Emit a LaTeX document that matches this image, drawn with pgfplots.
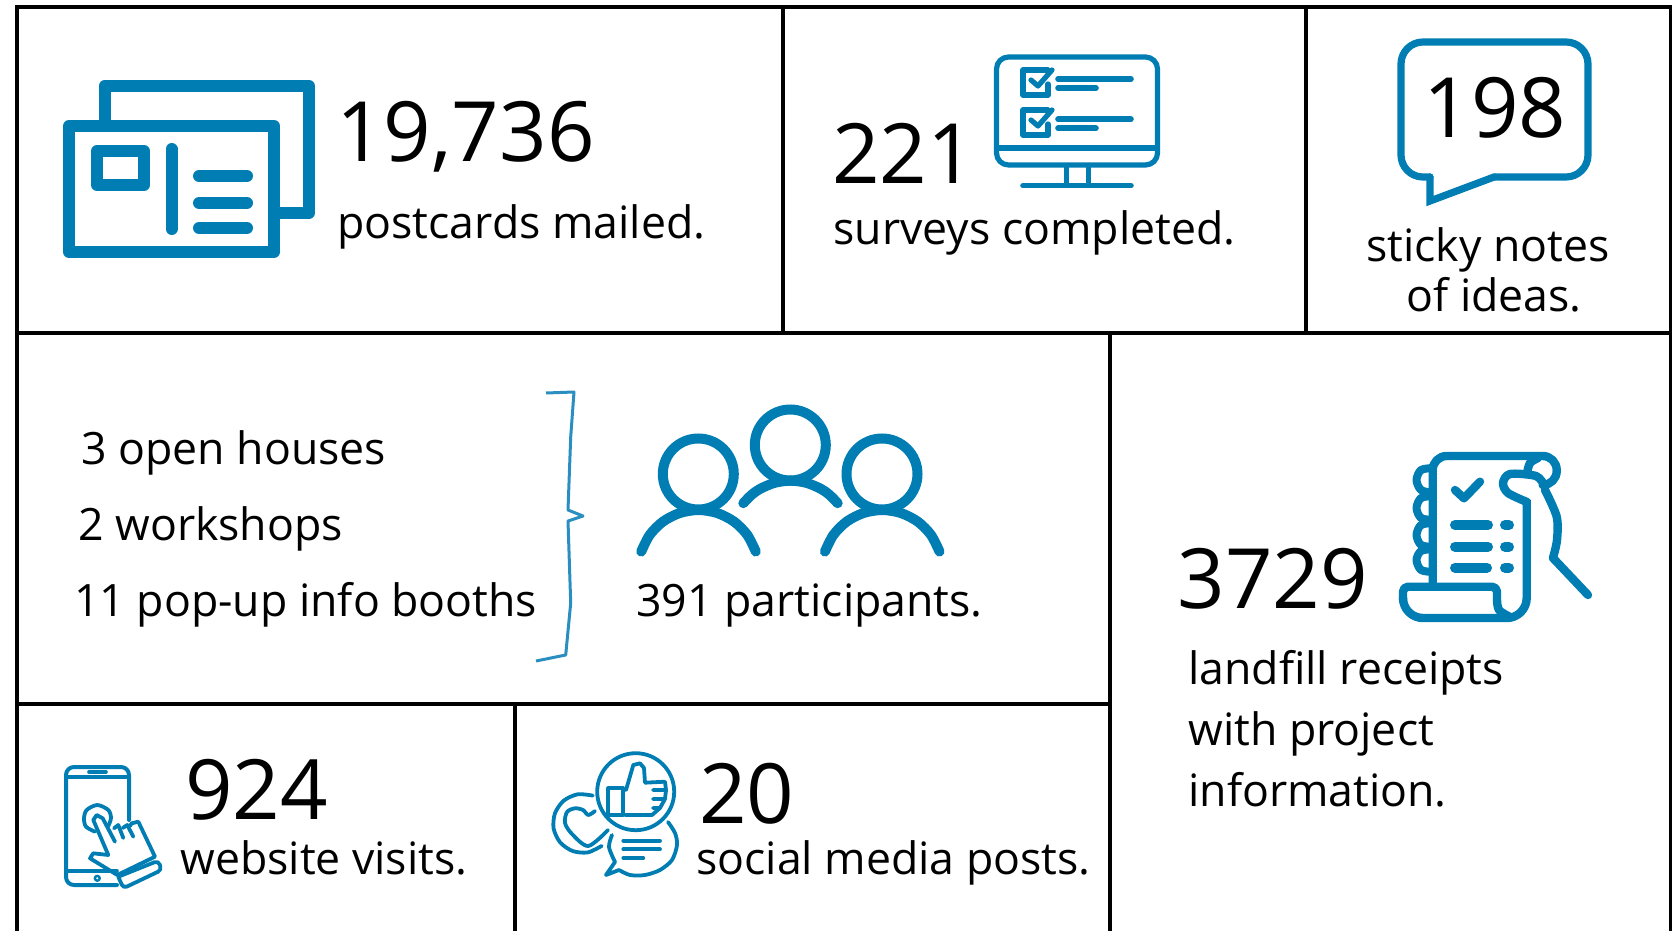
\documentclass[border=0pt]{standalone}
\usepackage{fontspec}
\setmainfont{Open Sans}
\usepackage{pgfplots}
\pgfplotsset{compat=1.18}
\definecolor{iconblue}{HTML}{007DB3}
\definecolor{bracketblue}{HTML}{2A8FC0}
% the whole sheet is laid out in reference pixels, 1 px = 0.5 pt
\pgfplotsset{
  rule/.style={black,no markers,line width=#1},
  icon/.style={iconblue,no markers,line join=round,line cap=round,line width=#1},
  ring/.style={only marks,mark=o,mark size=#1,iconblue},
}
\newcommand{\bigtxt}[3]{\node[anchor=base west,inner sep=0pt,font=\fontsize{41.6pt}{42pt}\selectfont] at (axis cs:#1,#2) {#3};}
\newcommand{\smalltxt}[3]{\node[anchor=base west,inner sep=0pt,font=\fontsize{22.3pt}{24pt}\selectfont] at (axis cs:#1,#2) {#3};}
\begin{document}
\begin{tikzpicture}
\begin{axis}[
    scale only axis,
    width=836pt,
    height=465.5pt,
    xmin=0, xmax=1672,
    ymin=0, ymax=931,
    y dir=reverse,
    hide axis,
]
% hidden axis gives no bounding box, so the sheet edge is drawn in white
\addplot[white,no markers,line width=0.1pt] coordinates {(0,0) (1672,0) (1672,931) (0,931) (0,0)};
% frame
\addplot[rule=2pt] coordinates {(15,7) (1672,7)};
\addplot[rule=2pt] coordinates {(17,5) (17,931)};
\addplot[rule=1.6pt] coordinates {(17,333) (1672,333)};
\addplot[rule=1.6pt] coordinates {(783,7) (783,333)};
\addplot[rule=1.6pt] coordinates {(1306,7) (1306,333)};
\addplot[rule=1.5pt] coordinates {(1670,7) (1670,931)};
\addplot[rule=1.6pt] coordinates {(1110,333) (1110,931)};
\addplot[rule=1.6pt] coordinates {(17,704) (1110,704)};
\addplot[rule=1.6pt] coordinates {(515,704) (515,931)};

% postcards
\addplot[icon=6pt] coordinates {(104.5,120) (104.5,86) (309,86) (309,213) (280,213)};
\addplot[icon=6pt] coordinates {(69,126) (274,126) (274,252) (69,252) (69,126)};
\addplot[icon=6pt] coordinates {(97,151) (144,151) (144,185) (97,185) (97,151)};
\addplot[icon=6pt] coordinates {(171.5,149) (171.5,229)};
\addplot[icon=6pt] coordinates {(199,176) (247,176)};
\addplot[icon=6pt] coordinates {(199,203) (247,203)};
\addplot[icon=6pt] coordinates {(199,228) (247,228)};

% monitor
\addplot[icon=2.6pt,rounded corners=6pt] coordinates {(1076,57) (1157.5,57) (1157.5,165) (996.5,165) (996.5,57) (1076,57)};
\addplot[icon=2.8pt] coordinates {(997,148) (1157,148)};
\addplot[icon=2.5pt] coordinates {(1066,167) (1066,185)};
\addplot[icon=2.5pt] coordinates {(1088,167) (1088,185)};
\addplot[icon=2.8pt] coordinates {(1023,185.7) (1131,185.7)};
\addplot[icon=2.6pt] coordinates {(1048,70) (1023,70) (1023,95) (1048,95) (1048,84)};
\addplot[icon=2.6pt] coordinates {(1031,80) (1038,86) (1052,70)};
\addplot[icon=2.8pt] coordinates {(1058,79) (1131,79)};
\addplot[icon=2.8pt] coordinates {(1058,88) (1096,88)};
\addplot[icon=2.6pt] coordinates {(1048,110) (1023,110) (1023,135) (1048,135) (1048,124)};
\addplot[icon=2.6pt] coordinates {(1031,120) (1038,126) (1052,110)};
\addplot[icon=2.8pt] coordinates {(1058,119.3) (1131,119.3)};
\addplot[icon=2.8pt] coordinates {(1058,128.3) (1096,128.3)};

% speech bubble
\addplot[icon=3.6pt,rounded corners=11pt] coordinates {(1430,177) (1401,177) (1401,42) (1588,42) (1588,177) (1494,177)};
\addplot[icon=3.6pt,line join=miter] coordinates {(1430,177) (1430,201) (1494,177)};

% bracket
\addplot[bracketblue,no markers,line width=1.5pt,line join=round] coordinates {
    (546,393) (574,392) (570.7,437) (568,510) (583,516) (568,521)
    (570.7,603) (565.7,655) (536,661)};

% people
\addplot[ring=17.75pt,mark options={line width=5pt}] coordinates {(698.3,474) (790.3,445) (882,474)};
\addplot[icon=5pt,smooth] coordinates {(641.2,551.6) (649.8,534.8) (663.1,521.5) (679.9,513) (698.5,510) (717.1,513) (733.9,521.5) (747.2,534.8) (755.8,551.6)};
\addplot[icon=5pt,smooth] coordinates {(824.9,551.6) (833.5,534.8) (846.8,521.5) (863.6,513) (882.2,510) (900.8,513) (917.6,521.5) (930.9,534.8) (939.5,551.6)};
\addplot[icon=5pt,smooth] coordinates {(743.3,503.2) (751.5,494.9) (760.2,488.8) (774.8,482.8) (790.5,480.7) (806.2,482.8) (820.8,488.8) (829.5,494.9) (837.7,503.2)};

% receipt
\addplot[icon=4.2pt,rounded corners=7pt] coordinates {(1432.7,586) (1432.7,456) (1556.7,456) (1556.7,485) (1545,485)};
\addplot[icon=4.2pt,smooth] coordinates {(1527,473) (1530,463) (1538,458)};
\addplot[icon=4.2pt,smooth] coordinates {(1544,485) (1536,476) (1510,474) (1503,483) (1508,493) (1527,502)};
\addplot[icon=4.2pt,rounded corners=10pt] coordinates {(1526.7,502) (1526.7,618) (1403,618) (1403,600)};
\addplot[icon=4.2pt,rounded corners=2.5pt] coordinates {(1403,600) (1403,586.7) (1497,586.7) (1497,600)};
\addplot[icon=4.2pt,smooth] coordinates {(1497,600) (1499,610) (1510,617)};
\addplot[icon=4.2pt,smooth] coordinates {(1545,490) (1556.7,516.7) (1557,540) (1553,558)};
\addplot[icon=4.2pt] coordinates {(1553,558) (1588,595)};
\addplot[icon=4pt,smooth] coordinates {(1433,468) (1421,470) (1416.5,480) (1421,490) (1433,493)};
\addplot[icon=4pt,smooth] coordinates {(1433,496) (1421,498) (1416.5,508) (1421,518) (1433,520)};
\addplot[icon=4pt,smooth] coordinates {(1433,523) (1421,525) (1416.5,535) (1421,545) (1433,547)};
\addplot[icon=4pt,smooth] coordinates {(1433,549) (1421,551) (1416.5,560) (1421,570) (1433,572)};
\addplot[icon=4.2pt] coordinates {(1455,490) (1464,498.3) (1480,481.7)};
\addplot[icon=5pt] coordinates {(1455,525) (1488,525)};
\addplot[icon=5pt] coordinates {(1505,525) (1509,525)};
\addplot[icon=5pt] coordinates {(1455,546.7) (1488,546.7)};
\addplot[icon=5pt] coordinates {(1505,546.7) (1509,546.7)};
\addplot[icon=5pt] coordinates {(1455,567.7) (1487,567.7)};
\addplot[icon=5pt] coordinates {(1505,567.7) (1509,567.7)};

% phone
\addplot[icon=2pt,rounded corners=4pt] coordinates {(129,820) (129,767) (66,767) (66,885) (117,885)};
\addplot[icon=1.8pt] coordinates {(66,777) (129,777)};
\addplot[icon=1.8pt] coordinates {(66,871) (117,871)};
\addplot[icon=1.8pt] coordinates {(89,772) (106,772)};
\addplot[ring=1.2pt,mark options={line width=1.2pt}] coordinates {(97.3,878.3)};
\addplot[icon=1.9pt,smooth] coordinates {(95,831.7) (86,826.7) (84,818.3) (86.7,810) (97.3,805) (108.3,810) (111,818) (108.3,826)};
\addplot[icon=1.9pt] coordinates {(108.3,855) (93.3,820) (96.7,815) (102.7,818.3) (115,841.7)};
\addplot[icon=1.9pt] coordinates {(114,828.3) (118.3,825) (123.3,838)};
\addplot[icon=1.9pt] coordinates {(122.7,828) (127.3,825) (133.3,836.7)};
\addplot[icon=1.9pt] coordinates {(130,826) (131.7,823.3) (138.3,821.7) (155,856.7) (117.3,875) (90,858.3) (93.3,853.3) (108.3,855)};
\addplot[icon=1.9pt,rounded corners=2pt] coordinates {(118.3,876.7) (158.3,860.7) (161.7,870) (123.3,888.3) (118.3,876.7)};

% social media
\addplot[icon=1.9pt,smooth] coordinates {(592.8,795.6) (577.6,794.3) (563.7,800.7) (555,813.2) (553.6,828.4) (560.1,842.3) (572.6,851) (587.8,852.4) (601.7,845.9)};
\addplot[icon=1.9pt,smooth] coordinates {(668,822) (675,833) (677,845) (672,860) (660,870) (645,875) (630,875) (619,870)};
\addplot[icon=1.9pt] coordinates {(619,870) (606,875) (615,862)};
\addplot[icon=1.9pt,smooth] coordinates {(615,862) (609,847) (612,835)};
\addplot[ring=19.25pt,mark options={line width=1.9pt}] coordinates {(635.7,791.7)};
\addplot[icon=1.9pt,smooth] coordinates {(608,830) (588.3,846) (572,834) (565,823) (567,812) (575,808.3) (583,810) (588.3,815) (595,811)};
\addplot[icon=1.9pt] coordinates {(608.3,788) (623.3,788) (623.3,815) (608.3,815) (608.3,788)};
\addplot[icon=1.9pt] coordinates {(626,790) (633.3,765) (640,763.3) (644,768) (645,782.7) (665,781.7) (666,790) (653,790)};
\addplot[icon=1.9pt] coordinates {(666,790) (665,799) (653,799)};
\addplot[icon=1.9pt] coordinates {(665,799) (660,808) (653,808)};
\addplot[icon=1.9pt] coordinates {(660,808) (652,815) (625,815)};
\addplot[icon=1.9pt] coordinates {(623.3,840.7) (660,840.7)};
\addplot[icon=1.9pt] coordinates {(623.3,849.3) (660,849.3)};
\addplot[icon=1.9pt] coordinates {(623.3,858) (643.3,858)};

% text
\bigtxt{336}{162}{19,736}
\smalltxt{337}{238}{postcards mailed.}
\bigtxt{832}{184}{221}
\smalltxt{833}{244}{surveys completed.}
\node[anchor=base,inner sep=0pt,font=\fontsize{41.6pt}{42pt}\selectfont] at (axis cs:1495,138) {198};
\node[anchor=base,inner sep=0pt,font=\fontsize{22.3pt}{24pt}\selectfont] at (axis cs:1488,262) {sticky notes};
\node[anchor=base,inner sep=0pt,font=\fontsize{22.3pt}{24pt}\selectfont] at (axis cs:1494,311) {of ideas.};
\smalltxt{81}{464}{3 open houses}
\smalltxt{78}{540}{2 workshops}
\smalltxt{74}{616.5}{11 pop-up info booths}
\smalltxt{636}{616}{391 participants.}
\bigtxt{1177}{608}{3729}
\smalltxt{1188}{684.5}{landfill receipts}
\smalltxt{1188}{745}{with project}
\smalltxt{1188}{806}{information.}
\bigtxt{185}{819}{924}
\smalltxt{180}{874}{website visits.}
\bigtxt{699}{823}{20}
\smalltxt{696}{874}{social media posts.}
\end{axis}
\end{tikzpicture}
\end{document}
